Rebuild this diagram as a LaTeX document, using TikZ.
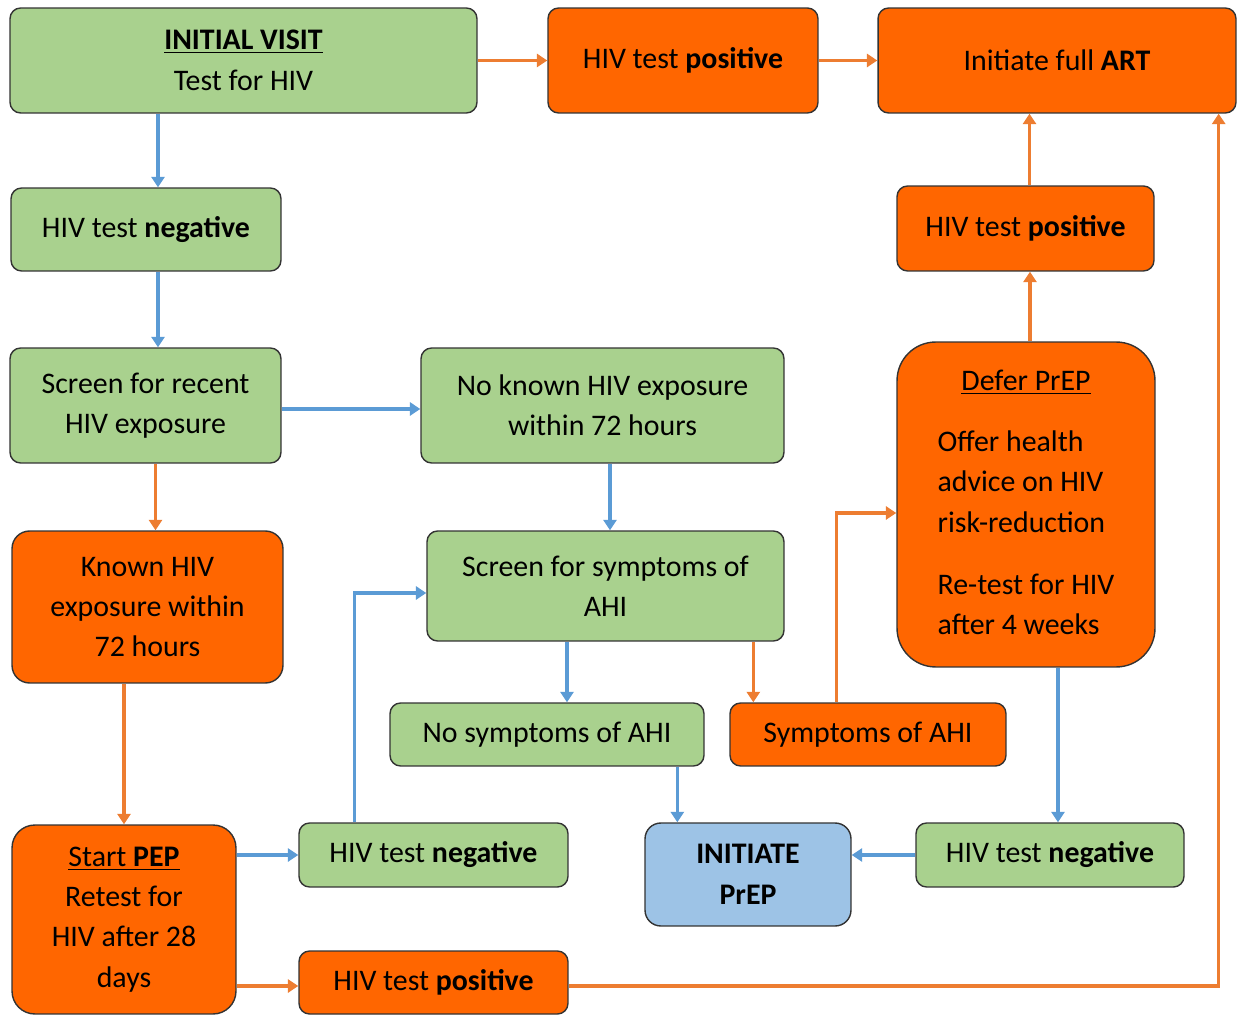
\documentclass[tikz,border=0pt]{standalone}
\usepackage{fontspec}
\setmainfont{Carlito}
\usetikzlibrary{
    arrows.meta,
    positioning,
    calc
}
\definecolor{box green}{HTML}{A9D18E}
\definecolor{box orange}{HTML}{FF6600}
\definecolor{box blue}{HTML}{9DC3E6}
\definecolor{line blue}{HTML}{5B9BD5}
\definecolor{line orange}{HTML}{ED7D31}
\newcommand{\flowfont}{\fontsize{17pt}{23pt}\selectfont}
\tikzset{
    % Boxes
    box/.style={draw=black!80,line width=0.8pt,rounded corners=6pt,align=center,inner sep=2pt},
    green box/.style={box,fill=box green},
    orange box/.style={box,fill=box orange},
    blue box/.style={box,fill=box blue},
    %
    % Arrows
    arrow tip/.tip={Triangle[length=6pt,width=7.5pt]},
    blue arr/.style={->,>={arrow tip},line blue,line width=1.8pt},
    orange arr/.style={->,>={arrow tip},line orange,line width=1.8pt}
}
\tikzstyle{every node}=[font=\flowfont]
\begin{document}
\begin{tikzpicture}[x=0.02cm,y=-0.02cm]
        \useasboundingbox (0,0) rectangle (1237,1016);
        % top row
        \node[green box,minimum width=9.34cm,minimum height=2.1cm] (init) at (243.5,60.5) {\underline{\textbf{INITIAL VISIT}}\\Test for HIV};
        \node[orange box,minimum width=5.4cm,minimum height=2.1cm] (pos1) at (683,60.5) {HIV test \textbf{positive}};
        \node[orange box,minimum width=7.16cm,minimum height=2.1cm] (art) at (1057,60.5) {Initiate full \textbf{ART}};
        % left column
        \node[green box,minimum width=5.4cm,minimum height=1.66cm] (neg1) at (146,229.5) {HIV test \textbf{negative}};
        \node[green box,minimum width=5.42cm,minimum height=2.3cm] (scrExp) at (145.5,405.5) {Screen for recent\\HIV exposure};
        \node[orange box,rounded corners=10pt,minimum width=5.42cm,minimum height=3.04cm] (known) at (147.5,607) {Known HIV\\exposure within\\72 hours};
        \node[orange box,rounded corners=13pt,minimum width=4.48cm,minimum height=3.78cm] (pep) at (124,919.5) {\underline{Start \textbf{PEP}}\\Retest for\\HIV after 28\\days};
        % middle
        \node[green box,minimum width=7.26cm,minimum height=2.3cm] (noKnown) at (602.5,405.5) {No known HIV exposure\\within 72 hours};
        \node[green box,minimum width=7.14cm,minimum height=2.2cm] (scrSym) at (605.5,586) {Screen for symptoms of\\AHI};
        \node[green box,minimum width=6.28cm,minimum height=1.26cm] (noSym) at (547,734.5) {No symptoms of AHI};
        \node[orange box,minimum width=5.52cm,minimum height=1.26cm] (sym) at (868,734.5) {Symptoms of AHI};
        \node[green box,minimum width=5.38cm,minimum height=1.28cm] (neg2) at (433.5,855) {HIV test \textbf{negative}};
        \node[orange box,minimum width=5.38cm,minimum height=1.26cm] (pos3) at (433.5,982.5) {HIV test \textbf{positive}};
        \node[blue box,rounded corners=9pt,minimum width=4.12cm,minimum height=2.06cm] (prep) at (748,874.5) {\textbf{INITIATE}\\\textbf{PrEP}};
        % right column
        \node[orange box,minimum width=5.14cm,minimum height=1.7cm] (pos2) at (1025.5,228.5) {HIV test \textbf{positive}};
        \node[orange box,rounded corners=22pt,minimum width=5.16cm,minimum height=6.5cm] (defer) at (1026,504.5) {\begin{tabular}{@{}l@{}}
            \multicolumn{1}{@{}c@{}}{\underline{Defer PrEP}}\\[0.41cm]
            Offer health\\advice on HIV\\risk-reduction\\[0.43cm]
            Re-test for HIV\\after 4 weeks
        \end{tabular}};
        \node[green box,minimum width=5.36cm,minimum height=1.28cm] (neg3) at (1050,855) {HIV test \textbf{negative}};
        % connectors
        \draw[orange arr] (init) -- (pos1);
        \draw[orange arr] (pos1) -- (art);
        \draw[blue arr] ([xshift=0.24cm]neg1.north |- init.south) -- ([xshift=0.24cm]neg1.north);
        \draw[blue arr] ([xshift=0.24cm]neg1.south) -- ([xshift=0.24cm]neg1.south |- scrExp.north);
        \draw[blue arr] ([yshift=-0.07cm]scrExp.east) -- ([yshift=-0.07cm]scrExp.east -| noKnown.west);
        \draw[orange arr] ([xshift=0.2cm]scrExp.south) -- ([xshift=0.2cm]scrExp.south |- known.north);
        \draw[orange arr] (pep.north |- known.south) -- (pep.north);
        \draw[blue arr] ([xshift=0.15cm]noKnown.south) -- ([xshift=0.15cm]noKnown.south |- scrSym.north);
        \draw[blue arr] ([xshift=0.4cm]noSym.north |- scrSym.south) -- ([xshift=0.4cm]noSym.north);
        \draw[orange arr] ([xshift=0.48cm]sym.north west |- scrSym.south) -- ([xshift=0.48cm]sym.north west);
        \draw[blue arr] ([xshift=0.66cm]prep.north west |- noSym.south) -- ([xshift=0.66cm]prep.north west);
        \draw[orange arr] ([xshift=2.14cm]sym.north west) |- ([yshift=-0.17cm]defer.west);
        \draw[orange arr] ([xshift=0.08cm]defer.north) -- ([xshift=0.08cm]defer.north |- pos2.south);
        \draw[orange arr] ([xshift=0.08cm]pos2.north) -- ([xshift=0.08cm]pos2.north |- art.south);
        \draw[blue arr] ([xshift=0.64cm]defer.south) -- ([xshift=0.64cm]defer.south |- neg3.north);
        \draw[blue arr] (neg3.west) -- (neg3.west -| prep.east);
        \draw[blue arr] (neg2.west -| pep.east) -- (neg2.west);
        \draw[blue arr] ([xshift=1.12cm]neg2.north west) |- ([yshift=-0.14cm]scrSym.west);
        \draw[orange arr] ([yshift=-0.07cm]pos3.west -| pep.east) -- ([yshift=-0.07cm]pos3.west);
        \draw[orange arr] ([yshift=-0.07cm]pos3.east) -| ([xshift=-0.36cm]art.south east);
\end{tikzpicture}
\end{document}
